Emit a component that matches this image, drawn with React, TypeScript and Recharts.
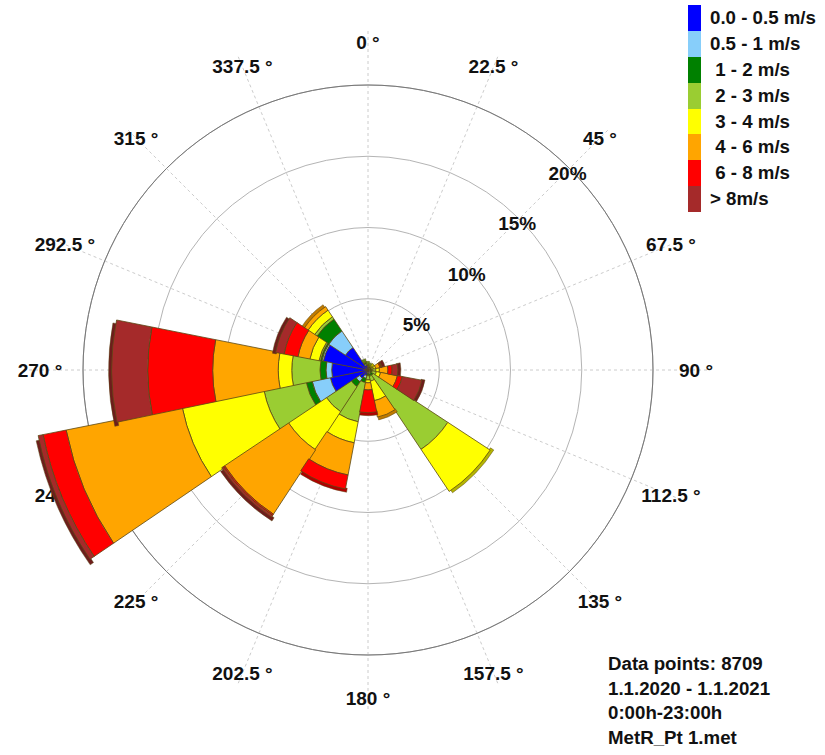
import React from 'react';
import {
  RadialBarChart,
  RadialBar,
  PolarAngleAxis,
  PolarRadiusAxis,
  PolarGrid,
  Sector,
} from 'recharts';

// wind directions (degrees, clockwise from north)
const directions = [0, 22.5, 45, 67.5, 90, 112.5, 135, 157.5, 180, 202.5, 225, 247.5, 270, 292.5, 315, 337.5];

// frequency (%) per speed class, one value per direction
const calm = [0.25, 0.15, 0.15, 0.1, 0.1, 0.1, 0.15, 0.2, 0.15, 0.4, 0.7, 2.7, 2.55, 3.2, 1.9, 0.35];
const light = [0.05, 0.05, 0.05, 0.05, 0.05, 0.05, 0.1, 0.1, 0.1, 0.2, 0.3, 1.3, 0.4, 0.1, 1.4, 0.1];
const s1to2 = [0.05, 0.05, 0.05, 0.1, 0.15, 0.15, 0.2, 0.15, 0.15, 0.3, 0.4, 0.42, 0.42, 0.1, 1.0, 0.1];
const s2to3 = [0.05, 0.05, 0.05, 0.15, 0.25, 0.3, 6.25, 0.35, 0.3, 2.8, 2.1, 3.02, 1.98, 0.1, 0.2, 0.05];
const s3to4 = [0, 0, 0.05, 0.15, 0.25, 0.3, 3.55, 1.4, 0.2, 1.5, 3.2, 5.86, 0.95, 0.65, 0.55, 0];
const s4to6 = [0, 0, 0, 0.3, 0.6, 1.2, 0, 1.17, 0.5, 2.3, 5.4, 8.3, 4.6, 0.85, 0.3, 0];
const s6to8 = [0, 0, 0, 0.1, 0.3, 0.35, 0, 0, 1.6, 1.0, 0.1, 1.65, 4.56, 1.0, 0, 0];
const over8 = [0, 0, 0, 0.05, 0.4, 1.4, 0, 0, 0, 0, 0.15, 0.35, 2.53, 0.6, 0, 0];

const classLabels = ['0.0 - 0.5 m/s', '0.5 - 1 m/s', ' 1 - 2 m/s', ' 2 - 3 m/s', ' 3 - 4 m/s', ' 4 - 6 m/s', ' 6 - 8 m/s', '> 8m/s'];
const classColors = ['#0000ff', '#87cefa', '#008000', '#9acd32', '#ffff00', '#ffa500', '#ff0000', '#a52a2a'];
const classShades = ['#00008b', '#4a8fb8', '#004d00', '#5f8a1a', '#b5b500', '#c07a00', '#b00000', '#6e1c1c'];

const radiusTicks = [5, 10, 15, 20];
const radiusMax = 24; // bars run past the 20% ring
const infoLines = ['Data points: 8709', '1.1.2020 - 1.1.2021', '0:00h-23:00h', 'MetR_Pt 1.met'];

const seriesKeys = ['c0', 'c1', 'c2', 'c3', 'c4', 'c5', 'c6', 'c7'];
const seriesValues = [calm, light, s1to2, s2to3, s3to4, s4to6, s6to8, over8];

const data = directions.map((dir, i) => {
  const row: Record<string, number> = { dir };
  seriesKeys.forEach((k, j) => {
    row[k] = seriesValues[j][i];
  });
  return row;
});

const FONT = '"Liberation Sans", Arial, sans-serif';
const OUTLINE = '#5a4814';
const CX = 368;
const CY = 370;
const RING = 285; // radius of the 20% ring
const OUTER = (RING * radiusMax) / 20;
const LABEL_R = 328;
const HALF_BAND = 360 / directions.length / 2;

const makeShape = (j: number) => (props: any) => {
  const { cx, cy, innerRadius, outerRadius, startAngle, endAngle } = props;
  if (!(outerRadius - innerRadius > 0.01)) return <g />;
  const row = props.payload ?? props;
  const outermost = seriesKeys.slice(j + 1).every((k) => !row[k]);
  return (
    <g>
      {outermost && (
        <Sector
          cx={cx}
          cy={cy}
          innerRadius={outerRadius - 1}
          outerRadius={outerRadius + 3}
          startAngle={startAngle + 0.8}
          endAngle={endAngle + 0.8}
          fill={classShades[j]}
          stroke={OUTLINE}
          strokeWidth={0.5}
        />
      )}
      <Sector
        cx={cx}
        cy={cy}
        innerRadius={innerRadius}
        outerRadius={outerRadius}
        startAngle={startAngle}
        endAngle={endAngle}
        fill={classColors[j]}
        stroke={OUTLINE}
        strokeWidth={0.8}
      />
    </g>
  );
};

// ticks land on the band edge, so move each label onto its direction
const AngleTick = (props: any) => {
  const { payload } = props;
  const a = ((payload.coordinate + HALF_BAND) * Math.PI) / 180;
  const x = CX + LABEL_R * Math.cos(a);
  const y = CY - LABEL_R * Math.sin(a);
  return (
    <text x={x} y={y} textAnchor="middle" dominantBaseline="central" fontSize={19} fontWeight="bold" fill="#111" fontFamily={FONT}>
      {`${payload.value} °`}
    </text>
  );
};

const RadiusTick = (props: any) => {
  const { x, y, payload } = props;
  if (!payload.value) return <g />;
  return (
    <text x={x - 2} y={y + 5} textAnchor="middle" dominantBaseline="central" fontSize={19} fontWeight="bold" fill="#111" fontFamily={FONT}>
      {`${payload.value}%`}
    </text>
  );
};

const WindLegend = () => (
  <div style={{ position: 'absolute', left: 688, top: 5, fontFamily: FONT, fontWeight: 'bold', fontSize: 18.7, color: '#111' }}>
    {classLabels.map((label, j) => (
      <div key={label} style={{ display: 'flex', alignItems: 'center', height: 25.9 }}>
        <div style={{ width: 13, height: 25.9, background: classColors[j] }} />
        <span style={{ marginLeft: 9, whiteSpace: 'pre' }}>{label}</span>
      </div>
    ))}
  </div>
);

export default function App() {
  const axisLayer: any = { zIndex: -50 };
  return (
    <div style={{ position: 'absolute', left: 0, top: 0, width: 825, height: 755, background: '#fff' }}>
      <RadialBarChart
        width={825}
        height={755}
        cx={CX}
        cy={CY}
        innerRadius={0}
        outerRadius={OUTER}
        data={data}
        layout="centric"
        startAngle={90 - HALF_BAND}
        endAngle={90 - HALF_BAND - 360}
        barCategoryGap={0}
        barGap={0}
        margin={{ top: 0, right: 0, bottom: 0, left: 0 }}
      >
        <PolarGrid gridType="circle" stroke="#b4b4b4" radialLines={false} />
        <PolarGrid
          gridType="circle"
          polarRadius={[]}
          polarAngles={directions.map((d) => 90 - d)}
          outerRadius={RING}
          stroke="#cccccc"
          strokeDasharray="3 3"
        />
        <PolarGrid gridType="circle" polarRadius={[RING]} radialLines={false} stroke="#777" />
        <PolarAngleAxis dataKey="dir" type="category" tick={AngleTick} tickLine={false} axisLine={false} {...axisLayer} />
        <PolarRadiusAxis
          type="number"
          angle={45}
          domain={[0, radiusMax]}
          ticks={radiusTicks as any}
          allowDataOverflow
          axisLine={false}
          tickLine={false}
          tick={RadiusTick}
        />
        {seriesKeys.map((k, j) => (
          <RadialBar key={k} dataKey={k} stackId="wind" fill={classColors[j]} isAnimationActive={false} shape={makeShape(j)} />
        ))}
      </RadialBarChart>
      <WindLegend />
      <div style={{ position: 'absolute', left: 608, top: 652, fontFamily: FONT, fontWeight: 'bold', fontSize: 18.7, color: '#111', lineHeight: '24.7px' }}>
        {infoLines.map((t) => (
          <div key={t}>{t}</div>
        ))}
      </div>
    </div>
  );
}
